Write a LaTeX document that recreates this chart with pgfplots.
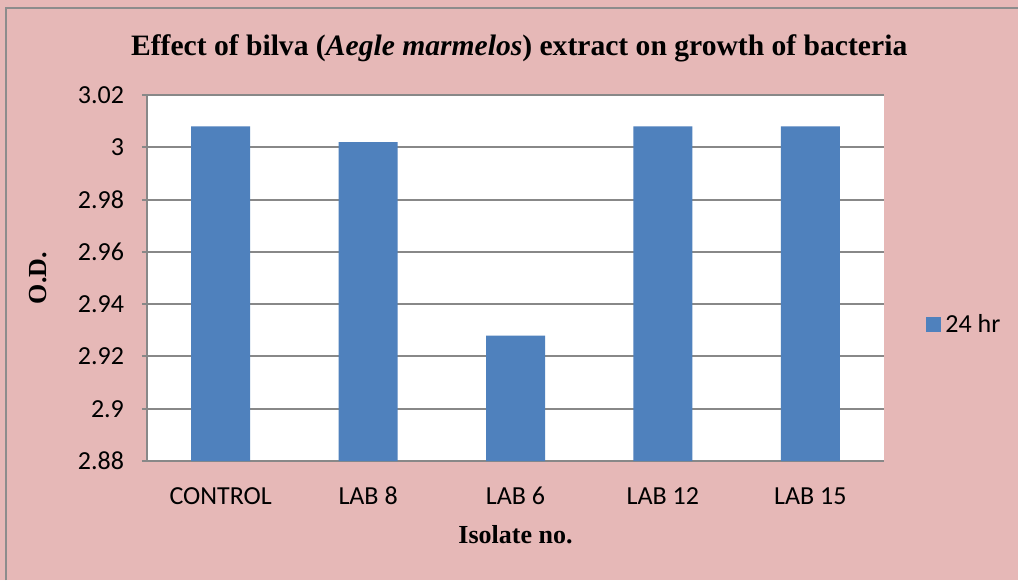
\documentclass[border=0pt]{standalone}
\usepackage{pgfplots}
\pgfplotsset{compat=1.18}
\usepackage{fontspec}
\setmainfont{Liberation Serif}
\setsansfont{Carlito}
\definecolor{chartbg}{HTML}{E6B8B7}
\definecolor{barblue}{HTML}{4F81BD}
\definecolor{gridgray}{HTML}{888888}
\definecolor{framegray}{HTML}{8C8C8C}
\begin{document}
\begin{tikzpicture}
% background of the chart area (1px = 0.5pt)
\fill[chartbg] (-73.5pt,-59.5pt) rectangle (435.5pt,230.5pt);
\draw[framegray,line width=1.2pt] (-70.5pt,-59.5pt) -- (-70.5pt,226.5pt) -- (435.5pt,226.5pt);
\begin{axis}[
  at={(0,0)},anchor=south west,
  scale only axis,width=368.5pt,height=183pt,
  axis background/.style={fill=white},
  ybar,bar width=29.5pt,
  xmin=-0.5,xmax=4.5,ymin=2.88,ymax=3.02,
  xtick={0,1,2,3,4},
  xticklabels={CONTROL,LAB 8,LAB 6,LAB 12,LAB 15},
  ytick={2.88,2.9,2.92,2.94,2.96,2.98,3,3.02},
  yticklabel style={/pgf/number format/fixed,/pgf/number format/precision=2},
  /pgf/number format/assume math mode=true,
  tick label style={font=\sffamily\fontsize{13}{15}\selectfont},
  xticklabel style={anchor=north,yshift=-6.5pt,text height=9pt,text depth=0pt},
  yticklabel style={xshift=-5.5pt},
  axis x line*=bottom,axis y line*=left,
  axis line style={gridgray,line width=1pt,-},
  x tick style={draw=none},
  y tick style={gridgray,line width=1pt},
  tick align=outside,major tick length=2.5pt,
  ymajorgrids,grid style={gridgray,line width=1pt},
  title={Effect of bilva (\textit{Aegle marmelos}) extract on growth of bacteria},
  title style={font=\bfseries\fontsize{14.8}{17}\selectfont,
    at={(axis description cs:0.505,1.096)},anchor=center},
  xlabel={Isolate no.},
  xlabel style={font=\bfseries\fontsize{13}{15}\selectfont,
    at={(axis description cs:0.5,-0.202)},anchor=center},
  ylabel={O.D.},
  ylabel style={font=\bfseries\fontsize{13}{15}\selectfont,
    at={(axis description cs:-0.148,0.5)},anchor=center},
  legend style={at={(1,0.372)},anchor=west,xshift=21pt,draw=none,fill=none,
    inner sep=0pt,font=\sffamily\fontsize{13}{15}\selectfont},
  legend image code/.code={\fill[barblue] (0pt,-3.75pt) rectangle (7.5pt,3.75pt);},
]
\addplot[fill=barblue,draw=none] coordinates {
  (0,3.008) (1,3.002) (2,2.928) (3,3.008) (4,3.008)};
\addlegendentry{24 hr}
\end{axis}
\pgfresetboundingbox
\path (-73.5pt,-59.5pt) rectangle (435.5pt,230.5pt);
\end{tikzpicture}
\end{document}
